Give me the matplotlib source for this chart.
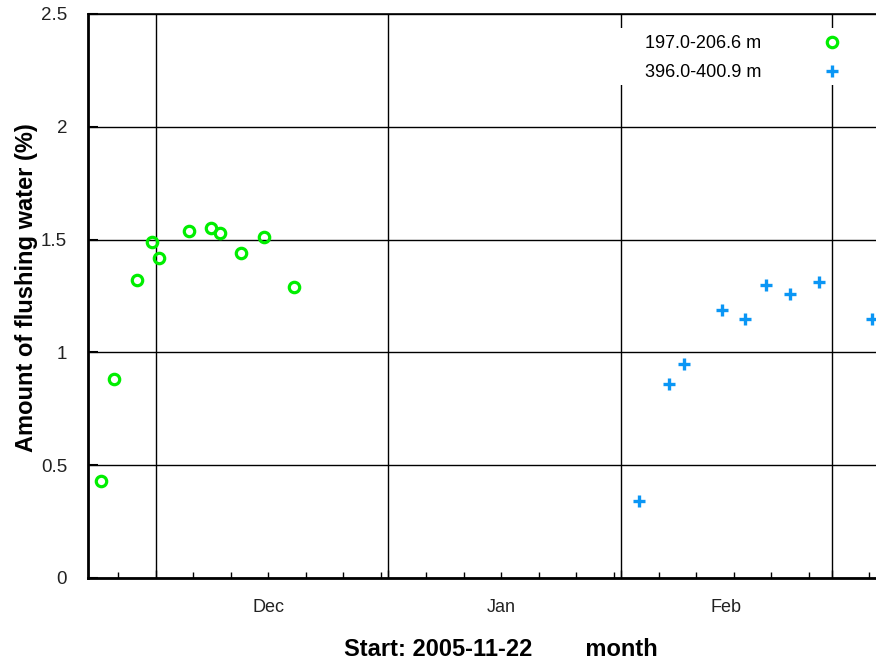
import matplotlib
matplotlib.use("Agg")
import matplotlib.pyplot as plt
import matplotlib.dates as mdates
import matplotlib.ticker as mticker
from matplotlib.patches import Rectangle
import numpy as np

plt.rcParams['font.family'] = ['Liberation Sans', 'DejaVu Sans']

# 197.0-206.6 m
dates_a = ['2005-11-23T16', '2005-11-25T12', '2005-11-28T13', '2005-11-30T14',
           '2005-12-01T12', '2005-12-05T10', '2005-12-08T10', '2005-12-09T14',
           '2005-12-12T10', '2005-12-15T10', '2005-12-19T10']
vals_a = [0.43, 0.88, 1.32, 1.49, 1.42, 1.54, 1.55, 1.53, 1.44, 1.51, 1.29]

# 396.0-400.9 m
dates_b = ['2006-02-03T08', '2006-02-07T08', '2006-02-09T10', '2006-02-14T10',
           '2006-02-17T10', '2006-02-20T08', '2006-02-23T10', '2006-02-27T08',
           '2006-03-06T08']
vals_b = [0.34, 0.86, 0.95, 1.19, 1.15, 1.30, 1.26, 1.31, 1.15]

labels = ['197.0-206.6 m', '396.0-400.9 m']
month_names = ['Dec', 'Jan', 'Feb']
month_mid = ['2005-12-16', '2006-01-16', '2006-02-15']


def to_dt(lst):
    return np.array(lst, dtype='datetime64[h]').astype('datetime64[s]').astype(object)


fig = plt.figure(figsize=(8.76, 6.64), dpi=100)
ax = fig.add_axes([88 / 876, 86 / 664, 1 - 88 / 876, 564 / 664])

ax.plot(to_dt(dates_a), vals_a, 'o', ms=7.5, mfc='none', mec='#00ee00', mew=2.3,
        label=labels[0], zorder=3)
ax.plot(to_dt(dates_b), vals_b, '+', ms=8.5, mec='#0a96f5', mew=2.4,
        label=labels[1], zorder=3)

ax.set_xlim(to_dt(['2005-11-22T00'])[0], to_dt(['2006-03-06T22'])[0])
ax.set_ylim(0, 2.5)

# month boundaries as major ticks + grid, 5-day minor ticks
ax.xaxis.set_major_locator(mdates.MonthLocator())
ax.xaxis.set_major_formatter(mticker.NullFormatter())
ax.xaxis.set_minor_locator(mdates.DayLocator(bymonthday=[6, 11, 16, 21, 26, 31]))
ax.tick_params(axis='x', which='major', direction='in', length=6, width=1)
ax.tick_params(axis='x', which='minor', direction='in', length=4, width=1)
for name, mid in zip(month_names, to_dt(month_mid)):
    ax.text(mid, -0.052, name, ha='center', va='center', fontsize=13,
            color='#222222', transform=ax.get_xaxis_transform())

ax.yaxis.set_major_locator(mticker.MultipleLocator(0.5))
ax.yaxis.set_major_formatter(mticker.FormatStrFormatter('%g'))
ax.tick_params(axis='y', direction='in', length=7, width=1.5, labelsize=13.5,
               pad=15, labelcolor='#222222')

ax.grid(True, which='major', color='black', lw=1)
ax.set_axisbelow(True)
for s in ['left', 'bottom']:
    ax.spines[s].set_linewidth(2)
ax.spines['top'].set_linewidth(1.2)
ax.spines['right'].set_visible(False)

ax.set_ylabel('Amount of flushing water (%)', fontsize=17, fontweight='bold')
ax.yaxis.set_label_coords(-0.0635, 0.514)
ax.set_xlabel('Start: 2005-11-22        month', fontsize=17, fontweight='bold')
ax.xaxis.set_label_coords(0.524, -0.106)

# white box behind the legend
ax.add_patch(Rectangle((0.669, 0.874), 0.331, 0.101, transform=ax.transAxes,
                       facecolor='white', edgecolor='none', zorder=1))
ax.legend(loc='upper right', bbox_to_anchor=(0.976, 0.975), markerfirst=False,
          fontsize=13, frameon=False, borderpad=0.4, handletextpad=2.9,
          labelspacing=0.65, borderaxespad=0)

fig.savefig('out.png', dpi=100)
